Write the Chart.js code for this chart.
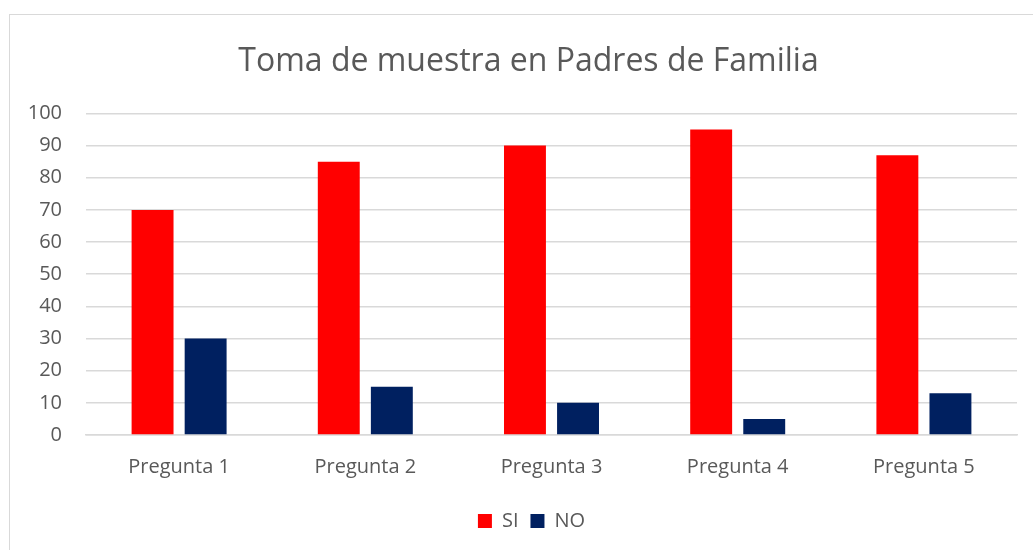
<!DOCTYPE html>
<html>
<head>
<meta charset="utf-8">
<script src="https://cdn.jsdelivr.net/npm/chart.js@4"></script>
<style>
  html, body { margin: 0; padding: 0; background: #fff; overflow: hidden; }
  #wrap {
    position: absolute; left: 9px; top: 14px;
    width: 1030px; height: 545px;
    border: 1px solid #d9d9d9;
    background: #fff;
  }
</style>
</head>
<body>
<div id="wrap"><canvas id="chart-muestra" width="1023" height="535"></canvas></div>
<script>
const preguntas = ['Pregunta 1', 'Pregunta 2', 'Pregunta 3', 'Pregunta 4', 'Pregunta 5'];
const valoresSi = [70, 85, 90, 95, 87];
const valoresNo = [30, 15, 10, 5, 13];

const colorSi = '#ff0000';
const colorNo = '#002060';
const textColor = '#595959';
const gridColor = '#d9d9d9';

Chart.defaults.font.family = "'Open Sans', sans-serif";
Chart.defaults.color = textColor;

// move title and legend a little to the right after layout
const shiftBlocks = {
    id: 'shiftBlocks',
    afterLayout(chart) {
        if (chart.titleBlock) {
            chart.titleBlock.left += 15;
            chart.titleBlock.right += 15;
        }
        if (chart.legend) {
            chart.legend.left += 18;
            chart.legend.right += 18;
        }
    },
};

const ctx = document.getElementById('chart-muestra').getContext('2d');

new Chart(ctx, {
    type: 'bar',
    data: {
        labels: preguntas,
        datasets: [
            {
                label: 'SI',
                data: valoresSi,
                backgroundColor: colorSi,
                categoryPercentage: 0.57,
                barPercentage: 0.79,
            },
            {
                label: 'NO',
                data: valoresNo,
                backgroundColor: colorNo,
                categoryPercentage: 0.57,
                barPercentage: 0.79,
            },
        ],
    },
    options: {
        responsive: false,
        animation: false,
        layout: {
            padding: { left: 0, right: 16, top: 0, bottom: 9 },
        },
        plugins: {
            title: {
                display: true,
                text: 'Toma de muestra en Padres de Familia',
                color: textColor,
                font: { size: 32, weight: 'normal' },
                padding: { top: 28, bottom: 32 },
            },
            legend: {
                position: 'bottom',
                labels: {
                    boxWidth: 14,
                    boxHeight: 14,
                    padding: 12,
                    color: textColor,
                    font: { size: 20 },
                },
            },
            tooltip: { enabled: false },
        },
        scales: {
            x: {
                grid: { display: false, drawTicks: false },
                border: { color: gridColor, width: 1.5 },
                ticks: { padding: 20, font: { size: 20 }, color: textColor },
                afterFit: (scale) => { scale.height = 64; },
            },
            y: {
                min: 0,
                max: 100,
                grid: { color: gridColor, lineWidth: 1.5, drawTicks: false },
                border: { display: false },
                ticks: {
                    stepSize: 10,
                    padding: 24,
                    font: { size: 20 },
                    color: textColor,
                },
                afterFit: (scale) => { scale.width = 76; },
            },
        },
    },
    plugins: [shiftBlocks],
});
</script>
</body>
</html>
